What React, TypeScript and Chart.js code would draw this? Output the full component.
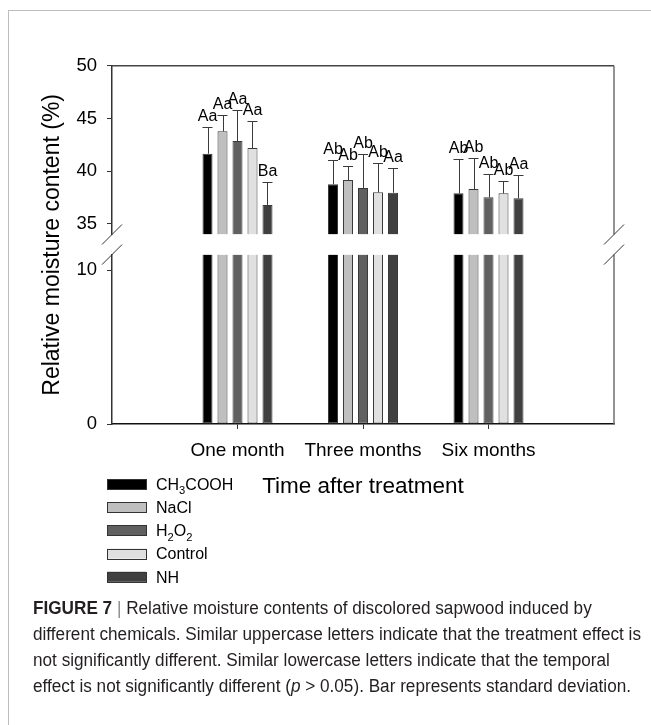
import React, { useEffect, useLayoutEffect, useRef } from 'react';
import { Chart, registerables } from 'chart.js';

Chart.register(...registerables);

const FONT = "'Liberation Sans', Arimo, Arial, Helvetica, sans-serif";
const CAPTION_FONT = "'Liberation Sans Narrow', 'Arial Narrow', 'Liberation Sans', Arial, sans-serif";

// ---- data ----
const categories = ['One month', 'Three months', 'Six months'];
const seriesLabels = ['CH₃COOH', 'NaCl', 'H₂O₂', 'Control', 'NH'];
const seriesColors = ['#000000', '#bfbfbf', '#606060', '#e0e0e0', '#404040'];

const ch3coohMean = [41.66, 38.76, 37.9];
const naclMean = [43.78, 39.17, 38.31];
const h2o2Mean = [42.86, 38.41, 37.52];
const controlMean = [42.2, 38.0, 37.9];
const nhMean = [36.8, 37.96, 37.43];

const ch3coohSd = [2.5, 2.3, 3.26];
const naclSd = [1.58, 1.35, 2.97];
const h2o2Sd = [2.91, 3.25, 2.21];
const controlSd = [2.53, 2.75, 1.2];
const nhSd = [2.15, 2.31, 2.24];

const ch3coohLetters = ['Aa', 'Ab', 'Ab'];
const naclLetters = ['Aa', 'Ab', 'Ab'];
const h2o2Letters = ['Aa', 'Ab', 'Ab'];
const controlLetters = ['Aa', 'Ab', 'Ab'];
const nhLetters = ['Ba', 'Aa', 'Aa'];

const upperTicks = [35, 40, 45, 50];
const lowerTicks = [0, 10];
const upperMin = 34;
const upperMax = 50;
const lowerMin = 0;
const lowerMax = 11;

const yTitle = 'Relative moisture content (%)';
const xTitle = 'Time after treatment';

const means = [ch3coohMean, naclMean, h2o2Mean, controlMean, nhMean];
const sds = [ch3coohSd, naclSd, h2o2Sd, controlSd, nhSd];
const letters = [ch3coohLetters, naclLetters, h2o2Letters, controlLetters, nhLetters];

const xLabels = ['', ...categories, ''];
const pad = (arr: number[]) => [null, ...arr, null];

const SUB = '₀₁₂₃₄₅₆₇₈₉';
function drawRich(ctx: CanvasRenderingContext2D, text: string, x: number, y: number, size: number) {
  // split into runs of normal / subscript characters
  const runs: { sub: boolean; t: string }[] = [];
  for (const ch of text) {
    const si = SUB.indexOf(ch);
    const sub = si >= 0;
    const c = sub ? String(si) : ch;
    if (runs.length && runs[runs.length - 1].sub === sub) runs[runs.length - 1].t += c;
    else runs.push({ sub, t: c });
  }
  let cx = x;
  for (const r of runs) {
    const fs = r.sub ? size * 0.7 : size;
    ctx.font = `${fs}px ${FONT}`;
    ctx.fillText(r.t, cx, r.sub ? y + size * 0.27 : y);
    cx += ctx.measureText(r.t).width;
  }
}

const decorPlugin = {
  id: 'decor',
  afterDatasetsDraw(chart: any) {
    const ctx: CanvasRenderingContext2D = chart.ctx;
    const hi = chart.scales.yHigh;
    ctx.save();
    means.forEach((m, si) => {
      const meta = chart.getDatasetMeta(si);
      m.forEach((v, j) => {
        const el = meta.data[j + 1];
        if (!el) return;
        const { x, y, width } = el.getProps(['x', 'y', 'width'], true);
        const top = hi.getPixelForValue(v + sds[si][j]);
        const lx = Math.round(x) + 0.5;
        const ty = Math.round(top) + 0.5;
        ctx.strokeStyle = '#3a3a3a';
        ctx.lineWidth = 1;
        ctx.beginPath();
        ctx.moveTo(lx, y);
        ctx.lineTo(lx, ty);
        ctx.moveTo(x - width / 2, ty);
        ctx.lineTo(x + width / 2, ty);
        ctx.stroke();
        ctx.fillStyle = '#000';
        ctx.font = `16px ${FONT}`;
        ctx.textAlign = 'center';
        ctx.textBaseline = 'alphabetic';
        ctx.fillText(letters[si][j], x, top - 6);
      });
    });
    ctx.restore();
  },
  afterDraw(chart: any) {
    const ctx: CanvasRenderingContext2D = chart.ctx;
    const area = chart.chartArea;
    const hi = chart.scales.yHigh;
    const lo = chart.scales.yLow;
    ctx.save();
    // top frame
    ctx.strokeStyle = '#444';
    ctx.lineWidth = 1.5;
    ctx.beginPath();
    ctx.moveTo(area.left, area.top);
    ctx.lineTo(area.right, area.top);
    ctx.stroke();
    // right frame (broken)
    ctx.strokeStyle = '#707070';
    ctx.beginPath();
    ctx.moveTo(area.right, area.top);
    ctx.lineTo(area.right, hi.bottom);
    ctx.moveTo(area.right, lo.top);
    ctx.lineTo(area.right, area.bottom);
    ctx.stroke();
    // break marks
    ctx.strokeStyle = '#333';
    ctx.lineWidth = 1;
    ctx.beginPath();
    for (const bx of [area.left, area.right]) {
      for (const by of [hi.bottom, lo.top]) {
        ctx.moveTo(bx - 10, by + 10);
        ctx.lineTo(bx + 10, by - 10);
      }
    }
    ctx.stroke();
    // legend
    const rowGap = 23.2;
    const y0 = area.bottom + 60;
    seriesLabels.forEach((lab, i) => {
      const cy = y0 + i * rowGap;
      const bx = area.left - 5;
      ctx.fillStyle = seriesColors[i];
      ctx.fillRect(bx, cy - 5, 39, 10);
      ctx.strokeStyle = '#333';
      ctx.lineWidth = 1;
      ctx.strokeRect(Math.round(bx) + 0.5, Math.round(cy - 5) + 0.5, 39, 10);
      ctx.fillStyle = '#000';
      ctx.textAlign = 'left';
      ctx.textBaseline = 'alphabetic';
      drawRich(ctx, lab, area.left + 44, cy + 5.8, 16);
    });
    ctx.restore();
  },
};

const STACK_W = 45.8;

export default function App() {
  const canvasRef = useRef<HTMLCanvasElement>(null);
  const capRef = useRef<HTMLDivElement>(null);
  const line2Ref = useRef<HTMLSpanElement>(null);

  useLayoutEffect(() => {
    if (!capRef.current || !line2Ref.current) return;
    const w = line2Ref.current.getBoundingClientRect().width;
    if (w > 0) capRef.current.style.transform = `scaleX(${608 / w})`;
  }, []);

  useEffect(() => {
    if (!canvasRef.current) return;
    Chart.defaults.font.family = FONT;
    Chart.defaults.color = '#000';

    const highSets = seriesLabels.map((lab, i) => ({
      label: lab,
      data: pad(means[i]),
      yAxisID: 'yHigh',
      stack: 's' + i,
      base: upperMin,
      backgroundColor: seriesColors[i],
      borderColor: '#3a3a3a',
      borderWidth: 1,
      borderSkipped: 'start',
    }));
    const lowSets = seriesLabels.map((lab, i) => ({
      label: lab + ' (low)',
      data: pad(means[i].map((v) => Math.min(v, lowerMax))),
      yAxisID: 'yLow',
      stack: 's' + i,
      backgroundColor: seriesColors[i],
      borderColor: '#3a3a3a',
      borderWidth: 1,
      borderSkipped: 'end',
    }));

    const yCommon = (ticksArr: number[]) => ({
      type: 'linear',
      position: 'left',
      stack: 'y',
      stacked: false,
      afterBuildTicks: (s: any) => {
        s.ticks = ticksArr.map((v) => ({ value: v }));
      },
      afterFit: (s: any) => {
        s.width = STACK_W;
      },
      grid: { drawOnChartArea: false, drawTicks: true, tickLength: 5, color: '#333', lineWidth: 1 },
      border: { display: true, color: '#333', width: 1.5 },
      ticks: { font: { size: 18.5, family: FONT }, color: '#000', padding: 10 },
    });

    const chart = new Chart(canvasRef.current, {
      type: 'bar',
      data: { labels: xLabels, datasets: [...highSets, ...lowSets] as any },
      options: {
        animation: false,
        responsive: false,
        events: [],
        categoryPercentage: 0.5976,
        barPercentage: 0.667,
        layout: { padding: { left: 38.6, right: 37, top: 65.7, bottom: 100.2 } },
        plugins: { legend: { display: false }, tooltip: { enabled: false } },
        scales: {
          x: {
            type: 'category',
            offset: false,
            z: 1,
            grid: {
              drawOnChartArea: false,
              drawTicks: true,
              tickLength: 5,
              offset: false,
              color: (c: any) => (c.index === 0 || c.index === xLabels.length - 1 ? 'rgba(0,0,0,0)' : '#333'),
            },
            border: { display: true, color: '#111', width: 1.5 },
            ticks: { font: { size: 19, family: FONT }, color: '#000', padding: 10, autoSkip: false, maxRotation: 0 },
            title: { display: true, text: xTitle, font: { size: 22.5, family: FONT }, color: '#000', padding: 0 },
            afterFit: (s: any) => {
              s.height = 75.8;
            },
          },
          yTitleAxis: {
            type: 'linear',
            position: 'left',
            weight: 10,
            grid: { display: false, drawTicks: false },
            border: { display: false },
            ticks: { display: false },
            title: { display: true, text: yTitle, font: { size: 23, family: FONT }, color: '#000', padding: 0 },
            afterFit: (s: any) => {
              s.width = 27.6;
            },
          },
          yHigh: { ...yCommon(upperTicks), min: upperMin, max: upperMax, weight: 3, stackWeight: 168.8 },
          yGap: {
            type: 'linear',
            position: 'left',
            stack: 'y',
            stackWeight: 20.1,
            weight: 2,
            display: false,
            min: 0,
            max: 1,
            ticks: { display: false },
            afterFit: (s: any) => {
              s.width = STACK_W;
            },
          },
          yLow: { ...yCommon(lowerTicks), min: lowerMin, max: lowerMax, weight: 1, stackWeight: 169.4 },
        } as any,
      },
      plugins: [decorPlugin as any],
    });
    return () => chart.destroy();
  }, []);

  return (
    <div style={{ position: 'fixed', left: 0, top: 0, width: 651, height: 725, background: '#fff', overflow: 'hidden' }}>
      <div
        style={{
          position: 'absolute',
          left: 8,
          top: 10,
          width: 700,
          height: 800,
          borderTop: '1px solid #bdbdbd',
          borderLeft: '1px solid #bdbdbd',
        }}
      />
      <canvas
        ref={canvasRef}
        width={651}
        height={600}
        style={{ position: 'absolute', left: 0, top: 0, width: 651, height: 600, display: 'block' }}
      />
      <div
        ref={capRef}
        style={{
          position: 'absolute',
          left: 33,
          top: 595,
          fontFamily: CAPTION_FONT,
          fontSize: 18,
          lineHeight: '26px',
          color: '#231f20',
          whiteSpace: 'nowrap',
          transformOrigin: '0 0',
        }}
      >
        <div>
          <b>FIGURE 7</b> <span style={{ color: '#8a8a8a' }}>|</span> Relative moisture contents of discolored sapwood induced by
        </div>
        <div>
          <span ref={line2Ref}>different chemicals. Similar uppercase letters indicate that the treatment effect is</span>
        </div>
        <div>not significantly different. Similar lowercase letters indicate that the temporal</div>
        <div>
          effect is not significantly different (<i>p</i> &gt; 0.05). Bar represents standard deviation.
        </div>
      </div>
    </div>
  );
}
